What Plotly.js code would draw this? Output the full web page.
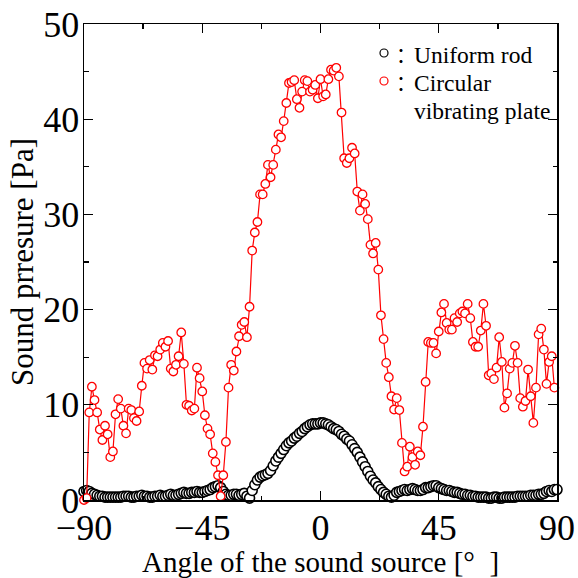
<!DOCTYPE html>
<html><head><meta charset="utf-8">
<script src="https://cdn.plot.ly/plotly-3.0.1.min.js"></script>
<style>html,body{margin:0;padding:0;background:#fff}#chart{width:578px;height:578px}</style>
</head><body><div id="chart"></div>
<script>
const anglesRod = [-90,-89,-88,-87,-86,-85,-84,-83,-82,-81,-80,-79,-78,-77,-76,-75,-74,-73,-72,-71,-70,-69,-68,-67,-66,-65,-64,-63,-62,-61,-60,-59,-58,-57,-56,-55,-54,-53,-52,-51,-50,-49,-48,-47,-46,-45,-44,-43,-42,-41,-40,-39,-38,-37,-36,-35,-34,-33,-32,-31,-30,-29,-28,-27,-26,-25,-24,-23,-22,-21,-20,-19,-18,-17,-16,-15,-14,-13,-12,-11,-10,-9,-8,-7,-6,-5,-4,-3,-2,-1,0,1,2,3,4,5,6,7,8,9,10,11,12,13,14,15,16,17,18,19,20,21,22,23,24,25,26,27,28,29,30,31,32,33,34,35,36,37,38,39,40,41,42,43,44,45,46,47,48,49,50,51,52,53,54,55,56,57,58,59,60,61,62,63,64,65,66,67,68,69,70,71,72,73,74,75,76,77,78,79,80,81,82,83,84,85,86,87,88,89,90];
const pressureRod = [
0.9,1.0,0.9,0.7,0.6,0.5,0.4,0.4,0.3,0.3,
0.3,0.3,0.3,0.3,0.3,0.4,0.4,0.4,0.3,0.3,
0.4,0.4,0.5,0.4,0.4,0.3,0.3,0.4,0.4,0.5,
0.4,0.4,0.5,0.6,0.5,0.5,0.6,0.7,0.8,0.7,
0.7,0.8,0.8,0.9,0.8,0.8,0.9,1.0,1.1,1.3,
1.4,1.5,1.3,0.9,0.6,0.5,0.5,0.6,0.6,0.5,
0.6,0.7,0.4,0.2,1.0,1.6,2.1,2.4,2.55,2.65,
2.8,3.1,3.6,4.1,4.5,4.9,5.3,5.7,6.0,6.2,
6.5,6.7,7.0,7.2,7.5,7.7,7.9,8.0,8.0,8.0,
8.1,8.1,8.0,7.9,7.7,7.5,7.4,7.2,6.9,6.7,
6.4,6.2,5.8,5.4,5.0,4.5,4.0,3.5,3.0,2.5,
2.1,1.8,1.4,1.1,0.8,0.6,0.4,0.3,0.5,0.8,
0.9,1.0,1.1,1.0,1.1,1.2,1.1,1.0,1.0,1.1,
1.3,1.3,1.4,1.5,1.5,1.3,1.2,1.1,1.0,1.0,
0.9,0.8,0.8,0.7,0.6,0.6,0.5,0.5,0.4,0.4,
0.3,0.3,0.3,0.3,0.2,0.2,0.3,0.3,0.2,0.2,
0.3,0.3,0.3,0.3,0.3,0.4,0.4,0.4,0.4,0.4,
0.5,0.5,0.5,0.6,0.6,0.7,0.9,1.0,0.9,1.1,
1.1];
const anglesPlate = [-90,-89,-88,-87,-86,-85,-84,-83,-82,-81,-80,-79,-78,-77,-76,-75,-74,-73,-72,-71,-70,-69,-68,-67,-66,-65,-64,-63,-62,-61,-60,-59,-58,-57,-56,-55,-54,-53,-52,-51,-50,-49,-48,-47,-46,-45,-44,-43,-42,-41,-40,-39,-38,-37,-36,-35,-34,-33,-32,-31,-30,-29,-28,-27,-26,-25,-24,-23,-22,-21,-20,-19,-18,-17,-16,-15,-14,-13,-12,-11,-10,-9,-8,-7,-6,-5,-4,-3,-2,-1,0,1,2,3,4,5,6,7,8,9,10,11,12,13,14,15,16,17,18,19,20,21,22,23,24,25,26,27,28,29,30,31,32,33,34,35,36,37,38,39,40,41,42,43,44,45,46,47,48,49,50,51,52,53,54,55,56,57,58,59,60,61,62,63,64,65,66,67,68,69,70,71,72,73,74,75,76,77,78,79,80,81,82,83,84,85,86,87,88,89];
const pressurePlate = [
0.0,0.2,9.2,11.9,10.5,9.2,7.4,6.3,7.8,6.9,
4.5,5.1,9.0,10.6,9.6,7.8,7.0,9.6,9.45,8.6,
8.3,9.3,12.0,14.4,13.8,14.7,13.7,15.2,15.1,15.8,
16.5,16.1,16.7,13.8,13.5,14.2,15.1,17.6,14.3,10.0,
9.9,9.4,9.6,13.9,12.8,11.4,8.9,7.5,6.9,4.9,
4.0,2.6,0.4,2.6,6.1,11.8,14.2,13.6,15.6,17.2,
18.4,18.7,17.1,20.3,26.2,28.1,29.2,32.1,32.1,33.2,
35.2,33.9,35.2,36.8,38.4,38.1,39.8,41.7,43.8,43.9,
44.1,42.1,41.2,42.9,44.1,44.0,42.9,43.1,43.6,42.2,
44.2,42.4,42.6,44.2,45.2,45.1,45.4,44.5,40.7,35.9,
35.4,35.9,37.0,36.4,32.4,30.4,32.1,31.1,29.5,26.8,
25.9,27.0,24.2,19.4,16.9,14.4,12.9,10.9,9.5,10.7,
9.45,6.0,3.0,3.5,5.6,4.5,3.7,5.1,4.7,7.7,
12.4,16.6,16.5,16.5,15.4,17.7,19.7,20.6,18.6,17.9,
17.9,19.1,18.7,19.6,19.8,19.6,20.6,19.1,16.6,16.1,
16.1,17.8,20.6,18.3,13.1,13.3,12.7,13.9,17.1,14.5,
9.7,11.2,13.8,14.4,16.2,14.4,10.7,9.8,10.4,13.7,
10.9,8.1,11.8,17.4,18.0,15.8,12.2,14.5,15.1,11.8];
const xTicks = [-90,-45,0,45,90];
const seriesNames = ["Uniform rod","Circular vibrating plate"];
const legendLines = ["Uniform rod","Circular","vibrating plate"];
const xTitle = "Angle of the sound source [°\u2002]";
const yTitle = "Sound prresure [Pa]";

const W = 578, H = 578;
const L = 84, R = 21, T = 24, B = 78;
const pw = W - L - R, ph = H - T - B;
const px = v => (v - L) / pw;
const py = v => (H - B - v) / ph;
const serif = "Liberation Serif, Times New Roman, serif";

const traces = [
  {x: anglesRod, y: pressureRod, type: "scatter", mode: "markers", name: seriesNames[0],
   cliponaxis: false, showlegend: false,
   marker: {symbol: "circle", size: 10, color: "#ffffff", line: {color: "#000000", width: 1.6}}},
  {x: anglesPlate, y: pressurePlate, type: "scatter", mode: "lines+markers", name: seriesNames[1],
   cliponaxis: false, showlegend: false,
   line: {color: "#ff0000", width: 1.2},
   marker: {symbol: "circle", size: 8.5, color: "#ffffff", line: {color: "#ff0000", width: 1.3}}}
];

const axisCommon = {
  showline: true, linecolor: "#000", linewidth: 1.5, mirror: "ticks",
  ticks: "inside", ticklen: 9, tickwidth: 1.3, tickcolor: "#000",
  showgrid: false, zeroline: false,
  tickfont: {family: serif, size: 36, color: "#000"}
};

const layout = {
  width: W, height: H,
  margin: {l: L, r: R, t: T, b: B, pad: 0},
  paper_bgcolor: "#fff", plot_bgcolor: "#fff",
  showlegend: false,
  xaxis: Object.assign({}, axisCommon, {
    range: [-90, 90], tickmode: "array", tickvals: xTicks, ticktext: xTicks.map(v => v < 0 ? "\u2212" + Math.abs(v) : String(v)),
    ticklabelstandoff: -5,
    minor: {dtick: 22.5, tick0: -90, ticks: "inside", ticklen: 4.5, tickwidth: 1.3, tickcolor: "#000", showgrid: false},
    title: {text: xTitle, font: {family: serif, size: 29, color: "#000"}, standoff: 6}
  }),
  yaxis: Object.assign({}, axisCommon, {
    range: [0, 50], dtick: 10, tick0: 0,
    ticklabelstandoff: -4,
    minor: {dtick: 5, ticks: "inside", ticklen: 4.5, tickwidth: 1.3, tickcolor: "#000", showgrid: false},
    title: {text: yTitle, font: {family: serif, size: 31, color: "#000"}, standoff: 0}
  }),
  shapes: [
    {type: "circle", xref: "paper", yref: "paper", xsizemode: "pixel", ysizemode: "pixel",
     xanchor: px(384), yanchor: py(53), x0: -4, x1: 4, y0: -4, y1: 4,
     line: {color: "#000", width: 1.2}, fillcolor: "#fff"},
    {type: "circle", xref: "paper", yref: "paper", xsizemode: "pixel", ysizemode: "pixel",
     xanchor: px(384), yanchor: py(81), x0: -4, x1: 4, y0: -4, y1: 4,
     line: {color: "#ff0000", width: 1.2}, fillcolor: "#fff"}
  ],
  annotations: [
    {xref: "paper", yref: "paper", x: px(401), y: py(55), xanchor: "center", yanchor: "middle", showarrow: false,
     text: "\uFF1A", font: {family: "Noto Sans CJK JP", size: 20, color: "#000"}},
    {xref: "paper", yref: "paper", x: px(401), y: py(83), xanchor: "center", yanchor: "middle", showarrow: false,
     text: "\uFF1A", font: {family: "Noto Sans CJK JP", size: 20, color: "#000"}},
    {xref: "paper", yref: "paper", x: px(412), y: py(55), xanchor: "left", yanchor: "middle", showarrow: false,
     text: legendLines[0], font: {family: serif, size: 23.5, color: "#000"}},
    {xref: "paper", yref: "paper", x: px(412), y: py(83), xanchor: "left", yanchor: "middle", showarrow: false,
     text: legendLines[1], font: {family: serif, size: 23.5, color: "#000"}},
    {xref: "paper", yref: "paper", x: px(412), y: py(111), xanchor: "left", yanchor: "middle", showarrow: false,
     text: legendLines[2], font: {family: serif, size: 23.5, color: "#000"}}
  ]
};

Plotly.newPlot("chart", traces, layout, {displayModeBar: false, staticPlot: true});
</script>
</body></html>
